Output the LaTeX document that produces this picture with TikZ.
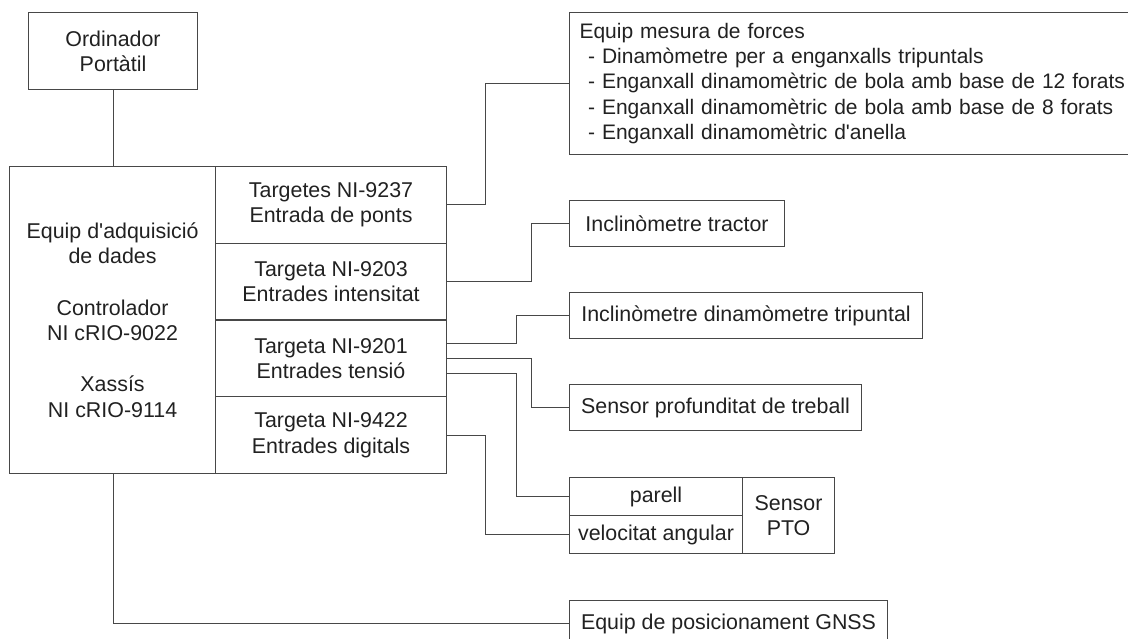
\documentclass[tikz,border=0pt]{standalone}
\usepackage{fontspec}
\setmainfont{Liberation Sans}[Ligatures=TeXOff]
\begin{document}
\begin{tikzpicture}[x=1pt,y=-1pt,
  bx/.style={draw=black!72, line width=1.1pt, anchor=north west, inner sep=0pt,
    align=center, text=black!87, font=\fontsize{21.4}{25.3}\selectfont},
  ln/.style={draw=black!72, line width=1.1pt}]
\useasboundingbox (0,0) rectangle (1128,639);
% left side
\node[bx, minimum width=169, minimum height=77] (pc) at (28,12) {Ordinador\\Portàtil};
\node[bx, minimum width=206, minimum height=307, font=\fontsize{21.4}{25.6}\selectfont] (daq) at (9,166)
  {Equip d'adquisició\\de dades\\[25.6pt]Controlador\\NI cRIO-9022\\[25.6pt]Xassís\\NI cRIO-9114};
\node[bx, minimum width=231, minimum height=76.75] (r1) at (215,166) {Targetes NI-9237\\Entrada de ponts};
\node[bx, minimum width=231, minimum height=76.75] (r2) at (215,242.75) {Targeta NI-9203\\Entrades intensitat};
\node[bx, minimum width=231, minimum height=76.75] (r3) at (215,319.5) {Targeta NI-9201\\Entrades tensió};
\node[bx, minimum width=231, minimum height=76.75] (r4) at (215,396.25) {Targeta NI-9422\\Entrades digitals};
% right side
\node[bx, minimum height=142, text width=640, inner xsep=10pt, align=left,
      font=\fontsize{21}{25.2}\selectfont] (mes) at (569,12)
  {Equip mesura de forces\\
   \hspace*{8.5pt}- Dinamòmetre per a enganxalls tripuntals\\
   \hspace*{8.5pt}- Enganxall dinamomètric de bola amb base de 12 forats\\
   \hspace*{8.5pt}- Enganxall dinamomètric de bola amb base de 8 forats\\
   \hspace*{8.5pt}- Enganxall dinamomètric d'anella};
\node[bx, minimum width=215, minimum height=46] (inct) at (569,200) {Inclinòmetre tractor};
\node[bx, minimum width=353, minimum height=46] (incd) at (569,292) {Inclinòmetre dinamòmetre tripuntal};
\node[bx, minimum width=292, minimum height=46] (prof) at (569,384) {Sensor profunditat de treball};
\node[bx, minimum width=173, minimum height=38] (par) at (569,477) {parell};
\node[bx, minimum width=173, minimum height=38] (vel) at (569,515) {velocitat angular};
\node[bx, minimum width=92, minimum height=76] (pto) at (742,477) {Sensor\\PTO};
\node[bx, minimum width=318, minimum height=46] (gnss) at (569,600) {Equip de posicionament GNSS};
% connectors
\draw[ln] (pc.south) -- (daq.north -| pc.south);
\draw[ln] (daq.south -| pc.south) |- (gnss.west);
\draw[ln] (r1.east) -- ++(38,0) |- (mes.west);
\draw[ln] (r2.east) -- ++(84,0) |- (inct.west);
\draw[ln] ([yshift=15pt]r3.east) -- ++(69,0) |- (incd.west);
\draw[ln] (r3.east) -- ++(84,0) |- (prof.west);
\draw[ln] ([yshift=-15pt]r3.east) -- ++(69,0) |- (par.west);
\draw[ln] (r4.east) -- ++(38,0) |- (vel.west);
\end{tikzpicture}
\end{document}
